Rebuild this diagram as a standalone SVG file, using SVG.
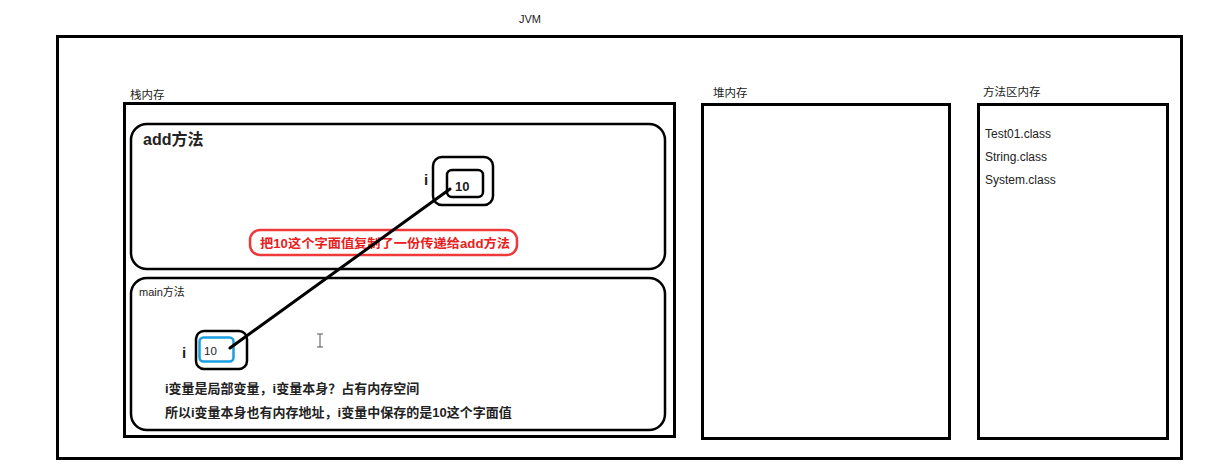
<svg xmlns="http://www.w3.org/2000/svg" width="1210" height="466" viewBox="0 0 1210 466">
<style>
.t{font-family:"Liberation Sans","Noto Sans CJK SC",sans-serif;fill:#222}
.b{font-weight:bold}
.box{fill:none;stroke:#000;stroke-width:3}
.rbox{fill:#fff;stroke:#000;stroke-width:2.5}
</style>
<rect width="1210" height="466" fill="#fff"/>
<g id="jvm">
<rect class="box" x="57.5" y="36.5" width="1124" height="422"/>
<text class="t" x="530" y="23" font-size="11" text-anchor="middle">JVM</text>
</g>
<g id="stack">
<text class="t" x="130" y="99" font-size="11.5">栈内存</text>
<rect class="box" x="124.5" y="103.5" width="550" height="333"/>
</g>
<g id="add-method">
<rect class="rbox" x="131" y="124" width="534" height="145" rx="16"/>
<text class="t b" x="143" y="145" font-size="16">add方法</text>
<text class="t b" x="424" y="185" font-size="15">i</text>
<rect class="rbox" x="433" y="157" width="60" height="48" rx="9"/>
<rect class="rbox" x="447" y="170" width="36" height="27" rx="5"/>
<text class="t b" x="455" y="191" font-size="13">10</text>
</g>
<g id="callout">
<rect x="250" y="230" width="267" height="25" rx="10" fill="#fff" stroke="#ee3a3a" stroke-width="2.5"/>
<text class="t b" x="260" y="248" font-size="12.5" textLength="250" lengthAdjust="spacingAndGlyphs" style="fill:#e82020">把10这个字面值复制了一份传递给add方法</text>
</g>
<g id="main-method">
<rect class="rbox" x="131" y="278" width="534" height="152" rx="16"/>
<text class="t" x="139" y="296" font-size="11">main方法</text>
<text class="t b" x="182" y="358" font-size="15">i</text>
<rect class="rbox" x="196" y="331" width="51" height="38" rx="8"/>
<rect x="199.5" y="337.5" width="34" height="24" rx="4" fill="#fff" stroke="#1a9ee0" stroke-width="2.5"/>
<text class="t" x="204" y="355" font-size="11.5">10</text>
<text class="t b" x="165" y="393" font-size="13">i变量是局部变量，i变量本身？占有内存空间</text>
<text class="t b" x="165" y="417" font-size="13">所以i变量本身也有内存地址，i变量中保存的是10这个字面值</text>
</g>
<g id="connectors">
<line x1="450" y1="189" x2="230" y2="348" stroke="#000" stroke-width="3" stroke-linecap="round"/>
</g>
<g id="heap">
<text class="t" x="713" y="97" font-size="11.5">堆内存</text>
<rect class="box" x="702.5" y="104.5" width="247" height="334"/>
</g>
<g id="method-area">
<text class="t" x="983" y="96" font-size="11.5">方法区内存</text>
<rect class="box" x="978.5" y="104.5" width="189" height="334"/>
<text class="t" x="985" y="138" font-size="12">Test01.class</text>
<text class="t" x="985" y="161" font-size="12">String.class</text>
<text class="t" x="985" y="184" font-size="12">System.class</text>
</g>
<path d="M317 334h6M320 334v13M317 347h6" stroke="#555" stroke-width="1" fill="none"/>
</svg>
